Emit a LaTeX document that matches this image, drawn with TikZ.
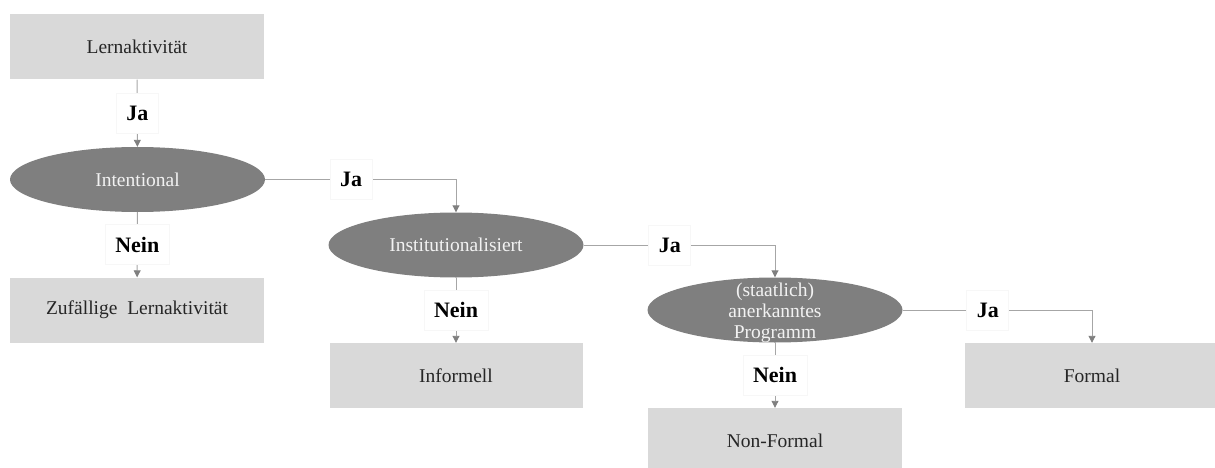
\documentclass[tikz,border=0pt]{standalone}
\usepackage{fontspec}
\setmainfont{Liberation Serif}
\newfontfamily\tnr{Liberation Serif}
\usetikzlibrary{arrows.meta,shapes.geometric}
\definecolor{boxgray}{HTML}{D9D9D9}
\definecolor{ellgray}{HTML}{7F7F7F}
\definecolor{linegray}{HTML}{A6A6A6}
\definecolor{tipgray}{HTML}{7F7F7F}
\definecolor{txt}{HTML}{262626}
\definecolor{etxt}{HTML}{F2F2F2}
\begin{document}
\begin{tikzpicture}[x=1pt,y=-1pt,
  box/.style={rectangle, fill=boxgray, minimum width=254pt, minimum height=65pt, text=txt,
    font=\tnr\fontsize{19.5}{20.5}\selectfont, inner sep=0pt},
  ell/.style={ellipse, fill=ellgray, minimum width=255pt, minimum height=65pt, inner sep=0pt},
  etext/.style={text=etxt, font=\tnr\fontsize{19.5}{21}\selectfont, align=center, inner sep=0pt},
  lbl/.style={fill=white, draw=black!3, font=\tnr\fontsize{22}{24}\selectfont\bfseries, text=black,
    inner xsep=10pt, minimum height=40pt},
  conn/.style={draw=linegray, line width=0.9pt, -{Triangle[width=7pt,length=7pt,fill=tipgray,color=tipgray]}}]
\useasboundingbox (0,0) rectangle (1215,468);
% nodes
\node[box] (n1) at (137,47) {Lernaktivität};
\node[ell] (e1) at (137.5,179.5) {};
\node[etext] (t1) at (e1.center) {Intentional};
\node[box] (n2) at (137,310) {Zufällige\ \ Lernaktivität};
\node[ell] (e2) at (456,245) {};
\node[etext] (t2) at (e2.center) {Institutionalisiert};
\node[box, minimum width=253pt] (n3) at (456,375.5) {Informell};
\node[ell] (e3) at (775,310) {};
\node[etext] (t3) at ([yshift=-3pt]e3.center) {(staatlich)\\anerkanntes\\Programm};
\node[box, minimum height=66pt] (n4) at (775,441) {Non-Formal};
\node[box] (n5) at (1092,375.5) {Formal};
% connectors
\draw[conn] (n1) -- node[lbl] {Ja} (e1);
\draw[conn] (e1) -- node[lbl] {Nein} (n2);
\draw[conn] (e1.east) -- node[lbl, pos=0.45] {Ja} (e1.east -| e2.north) -- (e2.north);
\draw[conn] (e2) -- node[lbl] {Nein} (n3);
\draw[conn] (e2.east) -- node[lbl, pos=0.45] {Ja} (e2.east -| e3.north) -- (e3.north);
\draw[conn] (e3) -- node[lbl] {Nein} (n4);
\draw[conn] (e3.east) -- node[lbl, pos=0.45] {Ja} (e3.east -| n5.north) -- (n5.north);
\end{tikzpicture}
\end{document}
